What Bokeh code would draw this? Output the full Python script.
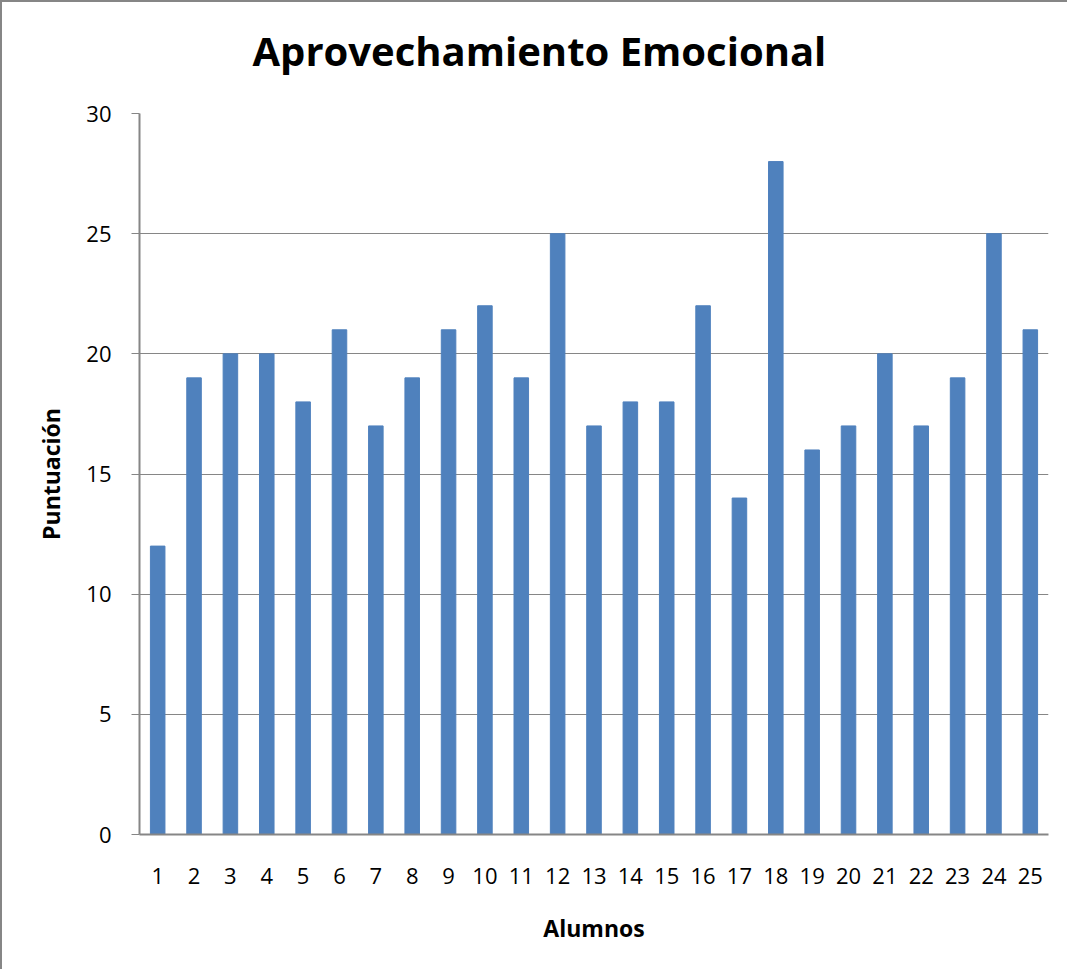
from bokeh.plotting import figure
from bokeh.models import Range1d, FixedTicker, ColumnDataSource, Title
from bokeh.embed import file_html
from bokeh.resources import INLINE

alumnos = list(range(1, 26))
puntuacion = [12, 19, 20, 20, 18, 21, 17, 19, 21, 22, 19, 25, 17, 18, 18, 22, 14, 28, 16, 17, 20, 17, 19, 25, 21]
y_ticks = [0, 5, 10, 15, 20, 25, 30]
titulo = "Aprovechamiento Emocional"

FONT = "Open Sans"
GRAY = "#868686"

src = ColumnDataSource(dict(x=alumnos, y=puntuacion))

p = figure(width=1067, height=969, output_backend="svg", toolbar_location=None, title=None,
           x_range=Range1d(0.5, 25.5), y_range=Range1d(0, 30),
           min_border_left=137, min_border_right=21, min_border_top=111, min_border_bottom=137)
p.styles = {"border-left": f"2px solid {GRAY}", "border-top": f"2px solid {GRAY}"}

p.vbar(x="x", top="y", width=0.4, source=src, color="#4F81BD")

# thin spacer between the frame and the title
p.add_layout(Title(text=" ", text_font_size="1px", standoff=15), "above")
p.add_layout(Title(text=titulo, align="left", offset=113, standoff=36,
                   text_font=FONT, text_font_size="40px", text_font_style="bold",
                   text_color="black"), "above")

p.outline_line_color = None
p.xgrid.grid_line_color = None
p.ygrid.grid_line_color = GRAY
p.ygrid.grid_line_width = 1

p.yaxis.ticker = FixedTicker(ticks=y_ticks)
p.xaxis.ticker = FixedTicker(ticks=alumnos)
for ax in (p.xaxis[0], p.yaxis[0]):
    ax.axis_line_color = GRAY
    ax.axis_line_width = 2
    ax.major_label_text_font = FONT
    ax.major_label_text_font_size = "22px"
    ax.major_label_text_color = "black"
    ax.axis_label_text_font = FONT
    ax.axis_label_text_font_size = "23px"
    ax.axis_label_text_font_style = "bold"
    ax.axis_label_text_color = "black"
    ax.minor_tick_line_color = None

p.yaxis.major_tick_line_color = GRAY
p.yaxis.major_tick_in = 0
p.yaxis.major_tick_out = 8
p.yaxis.major_label_standoff = 20
p.yaxis.axis_label = "Puntuación"
p.yaxis.axis_label_standoff = 16

p.xaxis.major_tick_line_color = None
p.xaxis.major_tick_in = 0
p.xaxis.major_tick_out = 0
p.xaxis.major_label_standoff = 33
p.xaxis.axis_label = "Alumnos"
p.xaxis.axis_label_standoff = 25

open("out.html", "w").write(file_html(p, INLINE))
